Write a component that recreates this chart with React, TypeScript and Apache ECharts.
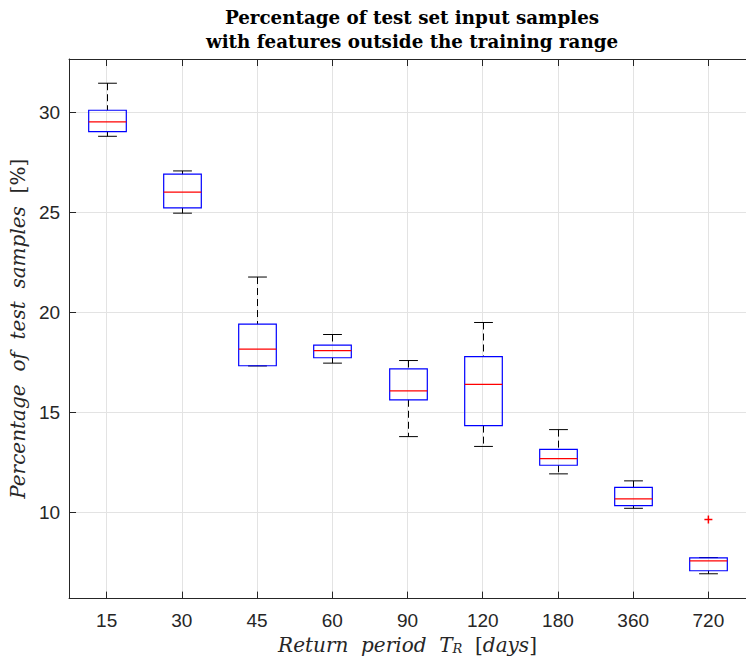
import React, { useEffect, useRef } from 'react';
import * as echarts from 'echarts';

const categories = ['15', '30', '45', '60', '90', '120', '180', '360', '720'];
const whiskerLow = [28.8, 24.96, 17.33, 17.47, 13.8, 13.31, 11.94, 10.22, 6.95];
const q1 = [29.03, 25.22, 17.34, 17.74, 15.64, 14.35, 12.37, 10.35, 7.1];
const median = [29.52, 26.01, 18.17, 18.09, 16.08, 16.41, 12.7, 10.69, 7.59];
const q3 = [30.1, 26.91, 19.42, 18.37, 17.18, 17.8, 13.16, 11.27, 7.74];
const whiskerHigh = [31.45, 27.07, 21.77, 18.9, 17.6, 19.5, 14.15, 11.59, 7.76];
const outlierCats = ['720'];
const outlierValues = [9.66];
const yTickLabels = [10, 15, 20, 25, 30];

const AXIS = '#262626';
const GRID = '#e3e3e3';

export default function App() {
  const ref = useRef<HTMLDivElement>(null);
  useEffect(() => {
    const chart = echarts.init(ref.current!, null, { renderer: 'svg' });
    const boxData = categories.map((_, i) => [i, whiskerLow[i], q1[i], median[i], q3[i], whiskerHigh[i]]);
    const outData = outlierCats.map((c, i) => [categories.indexOf(c), outlierValues[i]]);
    const dashed = { stroke: '#000', lineWidth: 1, lineDash: [7, 4] };
    const solid = { stroke: '#000', lineWidth: 1 };
    const option: any = {
      animation: false,
      grid: { left: 68, top: 59, width: 688, height: 540, containLabel: false },
      graphic: [
        {
          type: 'text',
          x: 412,
          y: 5,
          style: {
            text: 'Percentage of test set input samples\nwith features outside the training range',
            textAlign: 'center',
            font: 'bold 18.3px "DejaVu Serif"',
            lineHeight: 24,
            fill: '#000',
          },
        },
      ],
      xAxis: [
        {
          type: 'category',
          data: categories,
          position: 'bottom',
          axisLine: { show: true, lineStyle: { color: AXIS, width: 1 } },
          axisTick: { show: true, inside: true, alignWithLabel: true, length: 7, lineStyle: { color: AXIS } },
          axisLabel: { color: AXIS, fontFamily: 'Liberation Sans', fontSize: 19, margin: 12 },
          splitLine: { show: true, alignWithLabel: true, lineStyle: { color: GRID, width: 1 } },
          name: '{i|Return  period  T}{s|R}{u|  [}{i|days}{u|]}',
          nameLocation: 'middle',
          nameGap: 32,
          nameTextStyle: {
            rich: {
              i: { fontFamily: 'DejaVu Serif', fontStyle: 'italic', fontSize: 20, color: '#262626' },
              u: { fontFamily: 'DejaVu Serif', fontSize: 20, color: '#262626' },
              s: { fontFamily: 'DejaVu Serif', fontStyle: 'italic', fontSize: 13, color: '#262626', verticalAlign: 'bottom', padding: [8, 0, 0, 0] },
            },
          },
        },
        {
          type: 'category',
          data: categories,
          position: 'top',
          axisLine: { show: true, lineStyle: { color: AXIS, width: 1 } },
          axisTick: { show: true, inside: true, alignWithLabel: true, length: 7, lineStyle: { color: AXIS } },
          axisLabel: { show: false },
          splitLine: { show: false },
        },
      ],
      yAxis: {
        type: 'value',
        min: 5.71,
        max: 32.66,
        splitNumber: 5,
        axisLine: { show: true, lineStyle: { color: AXIS, width: 1 } },
        axisTick: { show: true, inside: true, length: 7, lineStyle: { color: AXIS } },
        axisLabel: {
          color: AXIS,
          fontFamily: 'Liberation Sans',
          fontSize: 19,
          margin: 9,
          showMinLabel: false,
          showMaxLabel: false,
          formatter: (v: number) => (yTickLabels.includes(Math.round(v * 100) / 100) ? String(v) : ''),
        },
        splitLine: { show: true, lineStyle: { color: GRID, width: 1 } },
        name: '{i|Percentage  of  test  samples  }{u|[%]}',
        nameLocation: 'middle',
        nameGap: 34,
        nameRotate: 90,
        nameTextStyle: {
          rich: {
            i: { fontFamily: 'DejaVu Serif', fontStyle: 'italic', fontSize: 20, color: '#262626' },
            u: { fontFamily: 'DejaVu Serif', fontSize: 20, color: '#262626' },
          },
        },
      },
      series: [
        {
          type: 'custom',
          data: boxData,
          encode: { x: 0, y: [1, 2, 3, 4, 5] },
          z: 5,
          renderItem: (_params: any, api: any) => {
            const idx = api.value(0);
            const lo = api.coord([idx, api.value(1)]);
            const b1 = api.coord([idx, api.value(2)]);
            const md = api.coord([idx, api.value(3)]);
            const b3 = api.coord([idx, api.value(4)]);
            const hi = api.coord([idx, api.value(5)]);
            const band = api.size([1, 0])[0];
            const bw = band * 0.5;
            const cw = band * 0.25;
            const x = Math.round(lo[0]) + 0.5;
            return {
              type: 'group',
              children: [
                { type: 'line', shape: { x1: x, y1: hi[1], x2: x, y2: b3[1] }, style: dashed },
                { type: 'line', shape: { x1: x, y1: b1[1], x2: x, y2: lo[1] }, style: dashed },
                { type: 'line', shape: { x1: x - cw / 2, y1: hi[1], x2: x + cw / 2, y2: hi[1] }, style: solid },
                { type: 'line', shape: { x1: x - cw / 2, y1: lo[1], x2: x + cw / 2, y2: lo[1] }, style: solid },
                {
                  type: 'rect',
                  shape: { x: x - bw / 2, y: b3[1], width: bw, height: b1[1] - b3[1] },
                  style: { fill: 'none', stroke: '#0000ff', lineWidth: 1.2 },
                },
                {
                  type: 'line',
                  shape: { x1: x - bw / 2, y1: md[1], x2: x + bw / 2, y2: md[1] },
                  style: { stroke: '#ff0000', lineWidth: 1.2 },
                },
              ],
            };
          },
        },
        {
          type: 'custom',
          data: outData,
          encode: { x: 0, y: 1 },
          z: 6,
          renderItem: (_params: any, api: any) => {
            const p = api.coord([api.value(0), api.value(1)]);
            const h = 4;
            const st = { stroke: '#ff0000', lineWidth: 1.5 };
            return {
              type: 'group',
              children: [
                { type: 'line', shape: { x1: p[0] - h, y1: p[1], x2: p[0] + h, y2: p[1] }, style: st },
                { type: 'line', shape: { x1: p[0], y1: p[1] - h, x2: p[0], y2: p[1] + h }, style: st },
              ],
            };
          },
        },
      ],
    };
    chart.setOption(option);
    return () => chart.dispose();
  }, []);
  return <div ref={ref} style={{ position: 'absolute', left: 0, top: 0, width: 746, height: 660 }} />;
}
